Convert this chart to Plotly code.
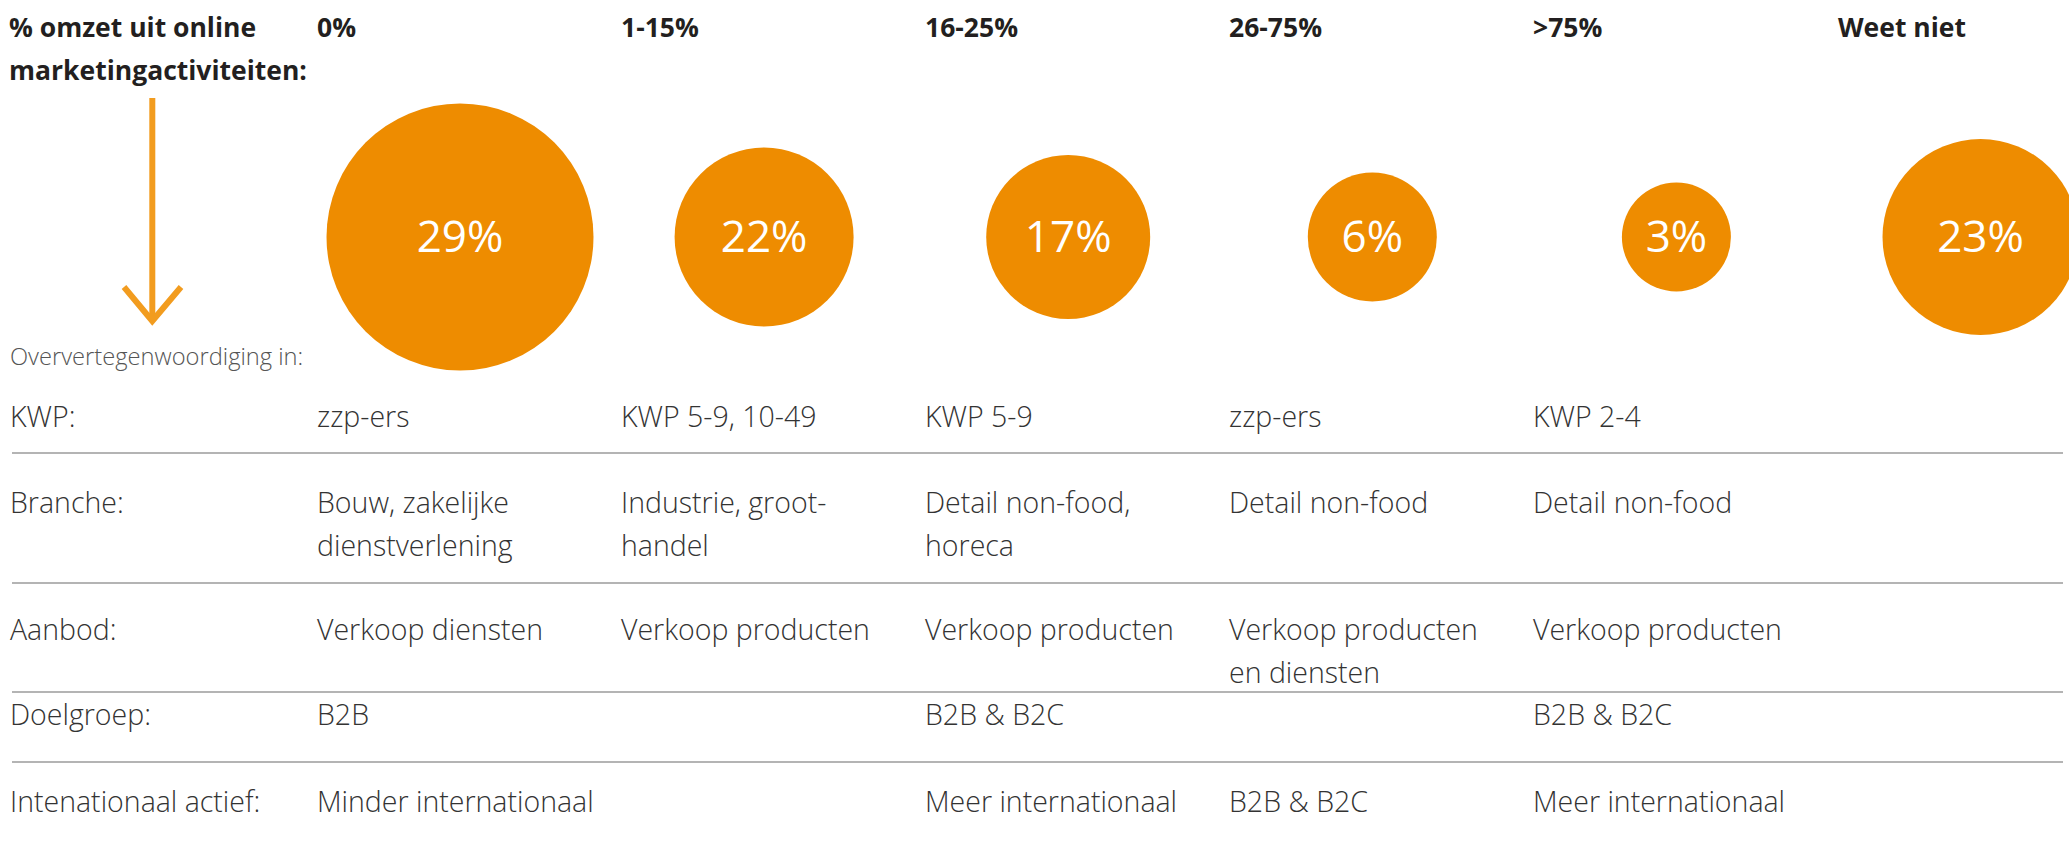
import plotly.graph_objects as go

# ---------------- data ----------------
bands = ["0%", "1-15%", "16-25%", "26-75%", ">75%", "Weet niet"]
share = [29, 22, 17, 6, 3, 23]

header_title = "% omzet uit online\nmarketingactiviteiten:"
subheader = "Oververtegenwoordiging in:"

row_labels = ["KWP:", "Branche:", "Aanbod:", "Doelgroep:", "Intenationaal actief:"]
kwp = ["zzp-ers", "KWP 5-9, 10-49", "KWP 5-9", "zzp-ers", "KWP 2-4", ""]
branche = ["Bouw, zakelijke\ndienstverlening", "Industrie, groot-\nhandel",
           "Detail non-food,\nhoreca", "Detail non-food", "Detail non-food", ""]
aanbod = ["Verkoop diensten", "Verkoop producten", "Verkoop producten",
          "Verkoop producten\nen diensten", "Verkoop producten", ""]
doelgroep = ["B2B", "", "B2B & B2C", "", "B2B & B2C", ""]
internationaal = ["Minder internationaal", "", "Meer internationaal", "B2B & B2C",
                  "Meer internationaal", ""]
table_rows = [kwp, branche, aanbod, doelgroep, internationaal]

# ---------------- style / layout ----------------
W, H = 2069, 846
ORANGE = "#EE8C00"
ARROW = "#F29C1F"
DARK = "#231F20"
BODY = "#333333"
GREY_LINE = "#B4B4B4"
FONT = "Open Sans"

BUBBLE_PX = [267, 179, 164, 129, 109, 196]   # drawn diameters (design style)
BUBBLE_ROW_Y = 237
LABEL_SHIFT = 4                              # cap-centre correction for bubble labels
COL0_PX, COL_STEP_PX = 460, 304.1            # category 0 center & spacing in px
TEXT_OFFSET = -144 / COL_STEP_PX             # left edge of column text vs category
LABEL_X_PX = 9
ROW_Y = [415.5, 501.5, 628.5, 713.5, 800.5]  # first text line of each table row
LINE_GAP = 43
SEP_Y = [453, 583, 692, 762]
HEAD_SIZE = 26.5
BODY_SIZE = 28.5
BODY_WEIGHT = 350

x_range = [-COL0_PX / COL_STEP_PX, (W - COL0_PX) / COL_STEP_PX]


def px_to_paper(x):
    return x / W


fig = go.Figure()
fig.add_trace(go.Scatter(
    x=bands, y=[BUBBLE_ROW_Y] * len(bands),
    mode="markers",
    marker=dict(size=BUBBLE_PX, color=ORANGE, line=dict(width=0), opacity=1),
    hoverinfo="skip", cliponaxis=False,
))
fig.add_trace(go.Scatter(
    x=bands, y=[BUBBLE_ROW_Y + LABEL_SHIFT] * len(bands),
    mode="text",
    text=[f"{v}%" for v in share],
    textposition="middle center",
    textfont=dict(family=FONT, size=44, color="white", weight=400),
    hoverinfo="skip", cliponaxis=False,
))

annotations = []


def add_text(x, xref, y, text, size, color, weight):
    annotations.append(dict(
        x=x, xref=xref, y=y, yref="y", text=text, showarrow=False,
        xanchor="left", yanchor="middle", borderpad=0,
        font=dict(family=FONT, size=size, color=color, weight=weight),
    ))


# header title (two lines)
for k, line in enumerate(header_title.split("\n")):
    add_text(px_to_paper(LABEL_X_PX - 1), "paper", 27 + k * LINE_GAP, line, HEAD_SIZE, DARK, 700)
# column headers
for i, b in enumerate(bands):
    add_text(i + TEXT_OFFSET, "x", 27, b, HEAD_SIZE, DARK, 700)
# subheader
add_text(px_to_paper(LABEL_X_PX), "paper", 356, subheader, 23.7, "#555555", BODY_WEIGHT)

# table
for r, (lab, vals) in enumerate(zip(row_labels, table_rows)):
    add_text(px_to_paper(LABEL_X_PX), "paper", ROW_Y[r], lab, BODY_SIZE, BODY, BODY_WEIGHT)
    for i, cell in enumerate(vals):
        for k, line in enumerate(cell.split("\n")):
            if line:
                add_text(i + TEXT_OFFSET, "x", ROW_Y[r] + k * LINE_GAP, line,
                         BODY_SIZE, BODY, BODY_WEIGHT)

shapes = []
for y in SEP_Y:
    shapes.append(dict(type="line", xref="paper", yref="y",
                       x0=px_to_paper(12), x1=px_to_paper(2063), y0=y, y1=y,
                       line=dict(color=GREY_LINE, width=2)))
# arrow
shapes.append(dict(type="line", xref="paper", yref="y",
                   x0=px_to_paper(152.3), x1=px_to_paper(152.3), y0=98, y1=320,
                   line=dict(color=ARROW, width=6)))
shapes.append(dict(type="path", xref="paper", yref="y",
                   path=f"M {px_to_paper(124)} 287 L {px_to_paper(152.3)} 321 L {px_to_paper(181)} 287",
                   line=dict(color=ARROW, width=6)))

fig.update_layout(
    width=W, height=H, margin=dict(l=0, r=0, t=0, b=0),
    paper_bgcolor="white", plot_bgcolor="white",
    showlegend=False,
    xaxis=dict(type="category", range=x_range, visible=False, fixedrange=True),
    yaxis=dict(range=[H, 0], visible=False, fixedrange=True),
    annotations=annotations, shapes=shapes,
    hovermode=False,
)

fig.write_html("out.html", config={"displayModeBar": False, "staticPlot": True},
               post_script="document.body.style.margin='0';document.body.style.overflow='hidden';")
